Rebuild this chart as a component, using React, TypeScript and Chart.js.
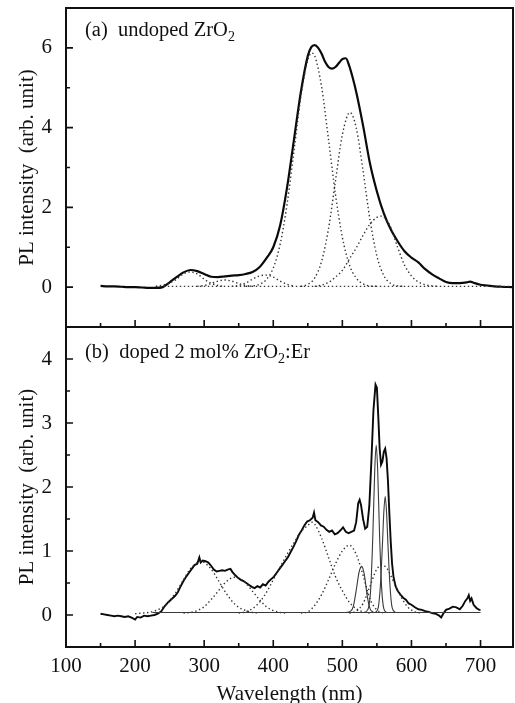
import React, { useEffect, useRef } from 'react';
import { Chart, registerables } from 'chart.js';

Chart.register(...registerables);

const FONT = '"Liberation Serif", "Times New Roman", serif';

// ---- axis ticks ----
const xTicks = [100, 200, 300, 400, 500, 600, 700];
const xMinorTicks = [150, 250, 350, 450, 550, 650];
const yTicksA = [0, 2, 4, 6];
const yMinorA = [1, 3, 5];
const yTicksB = [0, 1, 2, 3, 4];
const yMinorB = [0.5, 1.5, 2.5, 3.5];

// ---- panel (a): undoped ZrO2 ----
const aTotal: [number, number][] = [
  [150, 0.03], [160, 0.02], [170, 0.02], [180, 0.01], [190, 0.0], [200, 0.0], [210, -0.01], [220, -0.02],
  [230, -0.02], [240, 0.0], [250, 0.12], [260, 0.25], [270, 0.37], [280, 0.43], [290, 0.4], [300, 0.33],
  [310, 0.26], [320, 0.25], [330, 0.27], [340, 0.29], [350, 0.3], [360, 0.33], [370, 0.38], [380, 0.5],
  [390, 0.72], [400, 1.0], [410, 1.55], [420, 2.5], [430, 3.7], [440, 4.9], [450, 5.8], [455, 6.02],
  [460, 6.07], [465, 6.0], [470, 5.85], [475, 5.65], [480, 5.52], [485, 5.48], [490, 5.52], [495, 5.62],
  [500, 5.72], [505, 5.74], [510, 5.55], [515, 5.25], [520, 4.9], [530, 4.05], [540, 3.1], [550, 2.4],
  [560, 1.85], [570, 1.45], [580, 1.15], [590, 0.9], [600, 0.74], [610, 0.62], [620, 0.45], [630, 0.32],
  [640, 0.22], [650, 0.13], [660, 0.1], [670, 0.1], [680, 0.12], [685, 0.14], [690, 0.11], [700, 0.06],
  [710, 0.04], [720, 0.02], [730, 0.01], [746, 0.0],
];
const aFit1: [number, number][] = [
  [360, 0.02], [370, 0.03], [380, 0.07], [390, 0.19], [400, 0.48], [410, 1.08], [420, 2.08], [430, 3.42],
  [440, 4.78], [450, 5.7], [456, 5.87], [460, 5.8], [470, 5.02], [480, 3.7], [490, 2.33], [500, 1.25],
  [510, 0.57], [520, 0.23], [530, 0.08], [540, 0.03], [550, 0.02],
];
const aFit2: [number, number][] = [
  [440, 0.02], [450, 0.07], [460, 0.23], [470, 0.65], [480, 1.47], [490, 2.66], [500, 3.82], [511, 4.38],
  [520, 4.0], [530, 2.91], [540, 1.69], [550, 0.78], [560, 0.29], [570, 0.09], [580, 0.03], [590, 0.02],
];
const aFit3: [number, number][] = [
  [460, 0.02], [470, 0.05], [480, 0.12], [490, 0.25], [500, 0.42], [510, 0.7], [520, 0.98], [530, 1.3],
  [540, 1.58], [550, 1.75], [556, 1.78], [560, 1.76], [570, 1.5], [580, 1.0], [590, 0.55], [600, 0.28],
  [610, 0.13], [620, 0.06], [630, 0.03], [640, 0.02],
];
const aFitUV1: [number, number][] = [
  [230, 0.02], [240, 0.05], [250, 0.1], [260, 0.2], [270, 0.33], [280, 0.38], [290, 0.33], [300, 0.2],
  [310, 0.1], [320, 0.04], [330, 0.02],
];
const aFitUV2: [number, number][] = [
  [290, 0.02], [300, 0.04], [310, 0.09], [320, 0.15], [330, 0.18], [340, 0.15], [350, 0.09], [360, 0.04],
  [370, 0.02],
];
const aFitUV3: [number, number][] = [
  [340, 0.02], [350, 0.04], [360, 0.1], [370, 0.2], [380, 0.28], [390, 0.3], [400, 0.25], [410, 0.15],
  [420, 0.07], [430, 0.03],
];
const aBase: [number, number][] = [[230, 0.02], [746, 0.02]];

// ---- panel (b): doped 2 mol% ZrO2:Er ----
const bTotal: [number, number][] = [
  [150, 0.02], [155, 0.01], [160, 0.0], [165, -0.01], [170, -0.02], [175, -0.01], [180, -0.02], [185, -0.03],
  [190, -0.02], [195, -0.04], [200, -0.07], [203, -0.03], [208, -0.04], [213, -0.01], [218, -0.02], [223, -0.01],
  [228, 0.0], [233, 0.02], [238, 0.06], [243, 0.14], [248, 0.2], [253, 0.25], [258, 0.3], [262, 0.36],
  [266, 0.45], [270, 0.53], [274, 0.6], [278, 0.66], [282, 0.72], [286, 0.78], [290, 0.8], [293, 0.9],
  [295, 0.82], [298, 0.85], [302, 0.84], [306, 0.82], [310, 0.77], [314, 0.71], [318, 0.68], [322, 0.69],
  [326, 0.7], [330, 0.69], [334, 0.71], [338, 0.72], [341, 0.67], [345, 0.62], [349, 0.58], [353, 0.55],
  [357, 0.53], [361, 0.5], [365, 0.47], [369, 0.44], [373, 0.42], [377, 0.45], [381, 0.43], [385, 0.48],
  [389, 0.46], [393, 0.52], [397, 0.56], [401, 0.6], [405, 0.66], [409, 0.72], [413, 0.78], [417, 0.84],
  [421, 0.9], [425, 0.98], [429, 1.06], [433, 1.15], [437, 1.25], [441, 1.32], [445, 1.4], [449, 1.46],
  [453, 1.48], [457, 1.52], [459, 1.6], [461, 1.48], [465, 1.45], [469, 1.4], [473, 1.38], [477, 1.33],
  [481, 1.3], [485, 1.32], [489, 1.26], [493, 1.28], [497, 1.32], [501, 1.37], [505, 1.3], [509, 1.28],
  [513, 1.3], [517, 1.32], [520, 1.45], [523, 1.75], [525, 1.8], [527, 1.72], [530, 1.5], [533, 1.35],
  [536, 1.38], [539, 1.7], [542, 2.4], [545, 3.2], [548, 3.6], [550, 3.55], [552, 3.1], [554, 2.6],
  [556, 2.35], [558, 2.4], [560, 2.55], [562, 2.6], [564, 2.45], [566, 2.1], [568, 1.6], [570, 1.15],
  [572, 0.8], [574, 0.6], [577, 0.45], [580, 0.38], [584, 0.32], [588, 0.27], [592, 0.24], [596, 0.18],
  [600, 0.16], [605, 0.12], [610, 0.09], [615, 0.08], [620, 0.06], [625, 0.05], [630, 0.03], [635, 0.02],
  [640, -0.01], [643, -0.04], [646, 0.02], [650, 0.08], [655, 0.1], [660, 0.13], [665, 0.12], [670, 0.09],
  [674, 0.14], [678, 0.22], [681, 0.26], [683, 0.31], [685, 0.22], [687, 0.26], [690, 0.16], [694, 0.11],
  [698, 0.08], [700, 0.08],
];
const bBase: [number, number][] = [[225, 0.04], [700, 0.04]];
const bFit1: [number, number][] = [
  [200, 0.02], [210, 0.03], [220, 0.04], [230, 0.07], [240, 0.12], [250, 0.22], [260, 0.37], [270, 0.55],
  [280, 0.72], [290, 0.82], [295, 0.84], [300, 0.82], [310, 0.72], [320, 0.55], [330, 0.37], [340, 0.22],
  [350, 0.12], [360, 0.07], [370, 0.04], [380, 0.03],
];
const bFit2: [number, number][] = [
  [270, 0.03], [280, 0.04], [290, 0.07], [300, 0.13], [310, 0.24], [320, 0.37], [330, 0.5], [340, 0.58],
  [345, 0.59], [350, 0.58], [360, 0.5], [370, 0.37], [380, 0.24], [390, 0.13], [400, 0.07], [410, 0.04],
  [420, 0.03],
];
const bFit3: [number, number][] = [
  [350, 0.03], [360, 0.05], [370, 0.1], [380, 0.2], [390, 0.35], [400, 0.55], [410, 0.75], [420, 0.95],
  [430, 1.13], [440, 1.3], [450, 1.4], [456, 1.45], [460, 1.42], [470, 1.2], [480, 0.9], [490, 0.6],
  [500, 0.38], [510, 0.2], [520, 0.1], [530, 0.05], [540, 0.03],
];
const bFit4: [number, number][] = [
  [440, 0.03], [450, 0.05], [460, 0.15], [470, 0.32], [480, 0.55], [490, 0.8], [500, 1.0], [510, 1.09],
  [520, 0.95], [530, 0.62], [540, 0.25], [550, 0.08], [560, 0.03],
];
const bFit5: [number, number][] = [
  [510, 0.03], [520, 0.06], [530, 0.18], [540, 0.45], [550, 0.72], [558, 0.78], [565, 0.72], [575, 0.5],
  [585, 0.28], [595, 0.12], [605, 0.05], [615, 0.03],
];
const bEr1: [number, number][] = [
  [505, 0.04], [512, 0.06], [516, 0.14], [520, 0.38], [524, 0.66], [528, 0.76], [532, 0.62], [536, 0.3],
  [540, 0.1], [545, 0.04],
];
const bEr2: [number, number][] = [
  [533, 0.04], [538, 0.12], [541, 0.4], [544, 1.2], [547, 2.3], [549, 2.65], [551, 2.3], [554, 1.2],
  [557, 0.4], [560, 0.1], [564, 0.04],
];
const bEr3: [number, number][] = [
  [548, 0.04], [552, 0.12], [555, 0.45], [558, 1.1], [560, 1.6], [562, 1.85], [564, 1.6], [566, 1.1],
  [569, 0.45], [572, 0.12], [577, 0.04],
];

const labelA = [{ text: '(a)  undoped ZrO' }, { text: '2', sub: true }];
const labelB = [{ text: '(b)  doped 2 mol% ZrO' }, { text: '2', sub: true }, { text: ':Er' }];
const yTitle = 'PL intensity  (arb. unit)';
const xTitle = 'Wavelength (nm)';

const toXY = (pts: [number, number][]) => pts.map(([x, y]) => ({ x, y }));

type Kind = 'thick' | 'dot' | 'thin';
function ds(pts: [number, number][], kind: Kind, smooth = true) {
  const base: any = {
    data: toXY(pts),
    pointRadius: 0,
    fill: false,
    cubicInterpolationMode: smooth ? 'monotone' : 'default',
    tension: 0,
  };
  if (kind === 'thick') return { ...base, borderColor: '#0a0a0a', borderWidth: 2.2 };
  if (kind === 'thin') return { ...base, borderColor: '#3a3a3a', borderWidth: 1.1 };
  return { ...base, borderColor: '#333', borderWidth: 1.4, borderDash: [1.4, 2.6] };
}

function framePlugin(major: number[], minor: number[], label: { text: string; sub?: boolean }[], labelY: number) {
  return {
    id: 'frameTicks',
    afterDatasetsDraw(chart: any) {
      const { ctx, chartArea } = chart;
      const { left, right, top, bottom } = chartArea;
      const xs = chart.scales.x;
      const ys = chart.scales.y;
      ctx.save();
      ctx.strokeStyle = '#111';
      ctx.lineWidth = 2;
      ctx.strokeRect(left, top, right - left, bottom - top);
      ctx.lineWidth = 1.6;
      ctx.beginPath();
      for (const v of major) {
        const p = ys.getPixelForValue(v);
        ctx.moveTo(left, p);
        ctx.lineTo(left + 7, p);
      }
      for (const v of minor) {
        const p = ys.getPixelForValue(v);
        ctx.moveTo(left, p);
        ctx.lineTo(left + 4, p);
      }
      for (const v of xTicks) {
        const p = xs.getPixelForValue(v);
        if (p <= left + 1 || p >= right - 1) continue;
        ctx.moveTo(p, bottom);
        ctx.lineTo(p, bottom - 7);
      }
      for (const v of xMinorTicks) {
        const p = xs.getPixelForValue(v);
        if (p <= left + 1 || p >= right - 1) continue;
        ctx.moveTo(p, bottom);
        ctx.lineTo(p, bottom - 4);
      }
      ctx.stroke();
      ctx.fillStyle = '#111';
      ctx.textBaseline = 'alphabetic';
      ctx.textAlign = 'left';
      let x = 85;
      for (const part of label) {
        ctx.font = part.sub ? `14px ${FONT}` : `20.5px ${FONT}`;
        const y = part.sub ? labelY + 5 : labelY;
        ctx.fillText(part.text, x, y);
        x += ctx.measureText(part.text).width;
      }
      ctx.restore();
    },
  };
}

const noPad = (s: any) => {
  s.paddingTop = 0;
  s.paddingBottom = 0;
  s.paddingLeft = 0;
  s.paddingRight = 0;
};

function yAxis(min: number, max: number, ticks: number[]) {
  return {
    type: 'linear',
    min,
    max,
    afterBuildTicks: (s: any) => {
      s.ticks = ticks.map((v) => ({ value: v }));
    },
    afterFit: (s: any) => {
      s.width = 66;
      noPad(s);
    },
    grid: { display: false },
    border: { display: false },
    ticks: { font: { family: FONT, size: 21 }, color: '#111', padding: 6 },
    title: {
      display: true,
      text: yTitle,
      font: { family: FONT, size: 21 },
      color: '#111',
      padding: { top: 14.5, bottom: 0 },
    },
  };
}

export default function App() {
  const topRef = useRef<HTMLCanvasElement>(null);
  const botRef = useRef<HTMLCanvasElement>(null);

  useEffect(() => {
    const common = {
      responsive: false,
      animation: false,
      devicePixelRatio: 1,
      events: [],
      plugins: { legend: { display: false }, tooltip: { enabled: false } },
    };
    const top = new Chart(topRef.current!, {
      type: 'line',
      data: {
        datasets: [
          ds(aBase, 'dot', false),
          ds(aFitUV1, 'dot'),
          ds(aFitUV2, 'dot'),
          ds(aFitUV3, 'dot'),
          ds(aFit1, 'dot'),
          ds(aFit2, 'dot'),
          ds(aFit3, 'dot'),
          ds(aTotal, 'thick'),
        ],
      },
      options: {
        ...common,
        layout: { padding: { top: 8, bottom: 1, right: 2, left: 0 } },
        scales: {
          x: { type: 'linear', min: 100, max: 747, display: false, afterFit: noPad },
          y: yAxis(-1, 7, yTicksA),
        },
      } as any,
      plugins: [framePlugin(yTicksA, yMinorA, labelA, 36)],
    });
    const bot = new Chart(botRef.current!, {
      type: 'line',
      data: {
        datasets: [
          ds(bBase, 'thin', false),
          ds(bFit1, 'dot'),
          ds(bFit2, 'dot'),
          ds(bFit3, 'dot'),
          ds(bFit4, 'dot'),
          ds(bFit5, 'dot'),
          ds(bEr1, 'thin'),
          ds(bEr2, 'thin'),
          ds(bEr3, 'thin'),
          { ...ds(bTotal, 'thick', false), borderWidth: 1.9 },
        ],
      },
      options: {
        ...common,
        layout: { padding: { top: 1, bottom: 0, right: 2, left: 0 } },
        scales: {
          x: {
            type: 'linear',
            min: 100,
            max: 747,
            afterBuildTicks: (s: any) => {
              s.ticks = xTicks.map((v) => ({ value: v }));
            },
            afterFit: (s: any) => {
              s.height = 56;
              noPad(s);
            },
            grid: { display: false },
            border: { display: false },
            ticks: { font: { family: FONT, size: 21 }, color: '#111', padding: -1, maxRotation: 0 },
            title: {
              display: true,
              text: xTitle,
              font: { family: FONT, size: 21 },
              color: '#111',
              padding: { top: 0, bottom: -4 },
            },
          },
          y: yAxis(-0.5, 4.5, yTicksB),
        },
      } as any,
      plugins: [framePlugin(yTicksB, yMinorB, labelB, 32)],
    });
    return () => {
      top.destroy();
      bot.destroy();
    };
  }, []);

  return (
    <div style={{ position: 'absolute', left: 0, top: 0, width: 515, height: 703, background: '#fff', overflow: 'hidden' }}>
      <canvas ref={topRef} width={515} height={328} style={{ position: 'absolute', left: 0, top: 0 }} />
      <canvas ref={botRef} width={515} height={377} style={{ position: 'absolute', left: 0, top: 326 }} />
    </div>
  );
}
